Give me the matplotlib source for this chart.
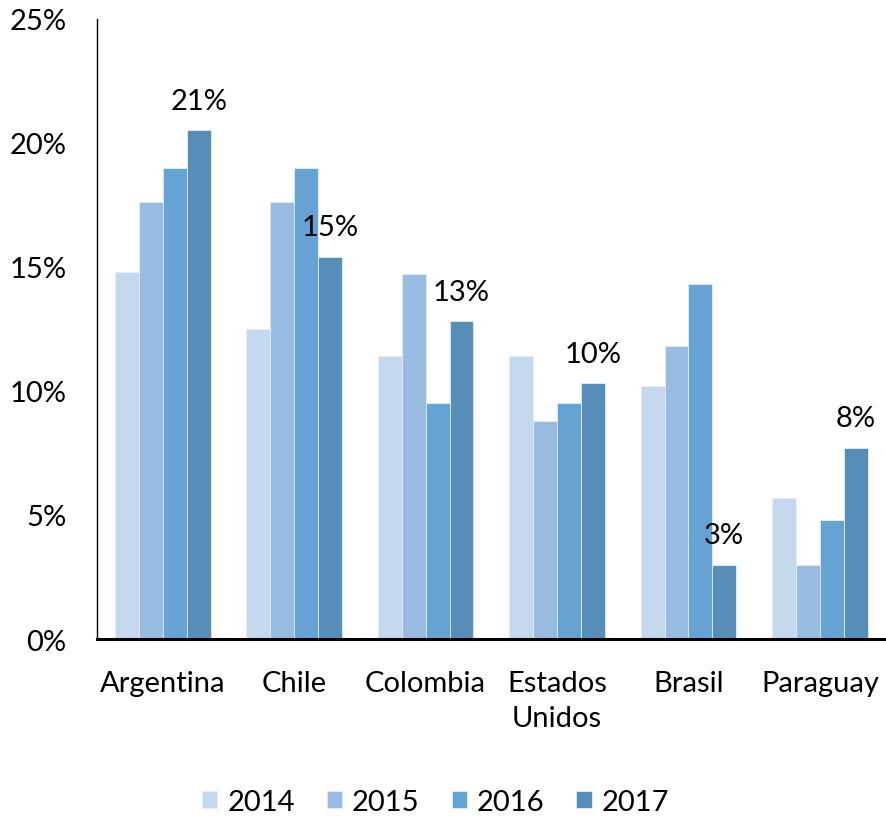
import numpy as np
import matplotlib.pyplot as plt

plt.rcParams['font.family'] = ['Lato', 'DejaVu Sans']

# Datos
paises = ['Argentina', 'Chile', 'Colombia', 'Estados\nUnidos', 'Brasil', 'Paraguay']
anios = ['2014', '2015', '2016', '2017']
v2014 = [14.8, 12.5, 11.4, 11.4, 10.2, 5.7]
v2015 = [17.6, 17.6, 14.7, 8.8, 11.8, 3.0]
v2016 = [19.0, 19.0, 9.5, 9.5, 14.3, 4.8]
v2017 = [20.5, 15.4, 12.8, 10.3, 3.0, 7.7]
colores = ['#c5d9ee', '#97bbe1', '#64a3d3', '#568eb9']

series = [v2014, v2015, v2016, v2017]

fig = plt.figure(figsize=(8.87, 8.2), dpi=100)
ax = fig.add_axes([0.1094, 0.2195, 0.889, 0.7565])

x = np.arange(len(paises))
ancho = 0.182
for i, (vals, anio, col) in enumerate(zip(series, anios, colores)):
    pos = x + (i - 1.5) * ancho
    ax.bar(pos, vals, width=ancho, color=col, edgecolor='#e3eef8',
           linewidth=0.6, label=anio)

# Etiquetas de la serie 2017
pos17 = x + 1.5 * ancho
for xi, v in zip(pos17, v2017):
    ax.annotate(f'{int(v + 0.5)}%', (xi, v), xytext=(0, 12),
                textcoords='offset points', ha='center', va='bottom',
                fontsize=21)

ax.set_xlim(-0.5, 5.5)
ax.set_ylim(0, 25)
ax.set_yticks(np.arange(0, 26, 5))
ax.set_yticklabels([f'{t}%' for t in range(0, 26, 5)])
ax.set_xticks(x)
ax.set_xticklabels(paises, linespacing=1.45)

ax.tick_params(axis='both', length=0, labelsize=21)
ax.tick_params(axis='y', pad=22)
ax.tick_params(axis='x', pad=22)

ax.spines['top'].set_visible(False)
ax.spines['right'].set_visible(False)
ax.spines['left'].set_linewidth(1.0)
ax.spines['bottom'].set_linewidth(2.2)

fig.legend(loc='lower center', bbox_to_anchor=(0.491, -0.02), ncol=4, frameon=False,
           fontsize=21, handlelength=0.52, handleheight=0.52, handletextpad=0.34,
           columnspacing=1.1, borderpad=0.2)

fig.savefig('out.png', dpi=100)
